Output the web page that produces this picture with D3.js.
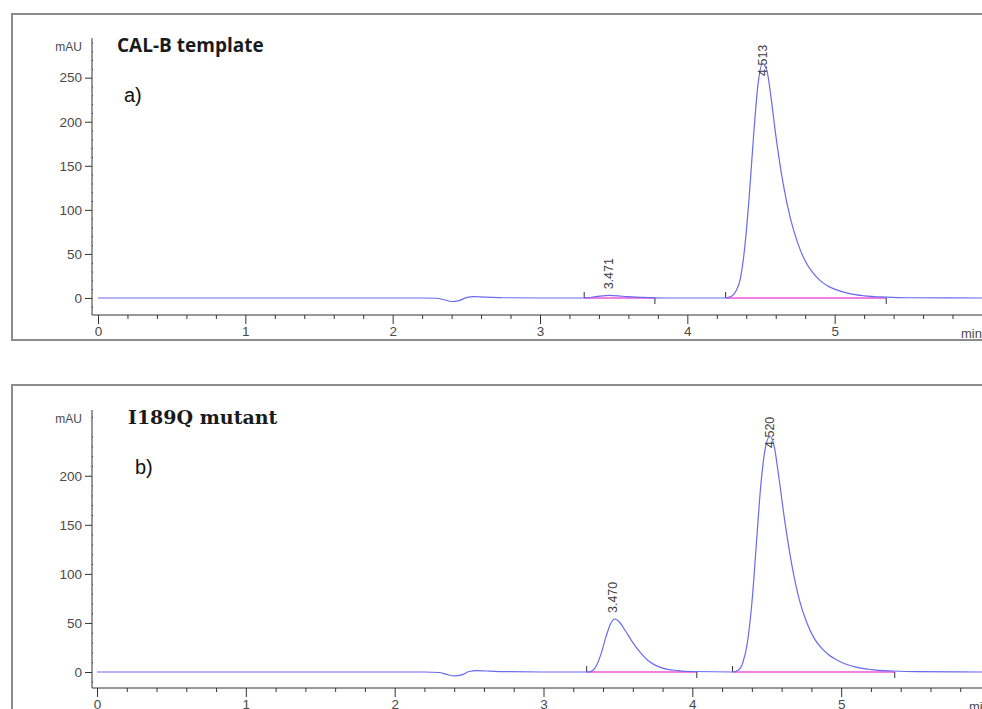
<!DOCTYPE html>
<html>
<head>
<meta charset="utf-8">
<script src="https://cdn.jsdelivr.net/npm/d3@7"></script>
<style>
  body { margin: 0; background: #fff; }
</style>
</head>
<body>
<svg id="chart" width="982" height="709" font-family="Arial, 'Liberation Sans', sans-serif"></svg>
<script>
// trace a) CAL-B template : retention time (min) / absorbance (mAU)
const timesA = [0, 2.2, 2.3, 2.35, 2.4, 2.45, 2.5, 2.55, 2.62, 2.75, 3.0, 3.3, 3.38, 3.47, 3.56, 3.7, 3.85,
  4.25, 4.3, 4.33, 4.36, 4.39, 4.42, 4.45, 4.48, 4.51, 4.54, 4.57, 4.6, 4.65, 4.7, 4.75, 4.8, 4.85, 4.9,
  4.95, 5.0, 5.1, 5.2, 5.35, 5.5, 6.0]
const valuesA = [0, 0, -0.3, -2, -4, -3, 0.5, 1.5, 1, 0.3, 0, 0, 1.5, 3, 2, 0.6, 0,
  0, 2, 8, 22, 58, 115, 185, 243, 266, 258, 225, 185, 130, 90, 62, 42, 29, 20,
  14, 10, 5, 2.5, 1, 0.3, 0]
// trace b) I189Q mutant
const timesB = [0, 2.2, 2.3, 2.35, 2.4, 2.45, 2.5, 2.55, 2.62, 2.75, 3.0, 3.3, 3.33, 3.36, 3.39, 3.42, 3.45,
  3.48, 3.51, 3.55, 3.6, 3.65, 3.7, 3.75, 3.8, 3.9, 4.0, 4.27, 4.31, 4.34, 4.37, 4.4, 4.43, 4.46, 4.49,
  4.52, 4.55, 4.58, 4.62, 4.67, 4.72, 4.77, 4.82, 4.87, 4.92, 5.0, 5.1, 5.2, 5.35, 5.5, 6.0]
const valuesB = [0, 0, -0.5, -2.5, -4, -3, 0.5, 1.5, 1, 0.3, 0, 0, 1.5, 8, 20, 36, 49,
  54, 51, 42, 30, 20, 12, 7, 4, 1.5, 0.5, 0, 2, 10, 30, 70, 130, 190, 228,
  240, 230, 200, 155, 108, 73, 50, 34, 24, 17, 10, 5, 2.5, 1, 0.3, 0]

// integrated peaks: retention time, label, start / end of baseline
const peakTimesA = [3.471, 4.513]
const peakLabelsA = ['3.471', '4.513']
const peakStartsA = [3.30, 4.26]
const peakEndsA = [3.78, 5.35]
const peakTimesB = [3.470, 4.520]
const peakLabelsB = ['3.470', '4.520']
const peakStartsB = [3.29, 4.27]
const peakEndsB = [4.03, 5.36]

// tick values
const xTicks = [0, 1, 2, 3, 4, 5, 6]
const xMinorTicks = d3.range(0, 6.01, 0.2).filter(d => Math.abs(d - Math.round(d)) > 0.01)
const yTicksA = [0, 50, 100, 150, 200, 250]
const yTicksB = [0, 50, 100, 150, 200]

const svg = d3.select('#chart')
svg.append('rect').attr('width', 982).attr('height', 709).attr('fill', '#fff')

function drawPanel (cfg) {
  const g = svg.append('g')
  // 外框
  g.append('rect')
    .attr('x', 12).attr('y', cfg.boxTop)
    .attr('width', 1000).attr('height', cfg.boxHeight)
    .attr('fill', 'none').attr('stroke', '#8c8c8c').attr('stroke-width', 2)

  const x = d3.scaleLinear().domain([0, 6]).range(cfg.xRange)
  const y = d3.scaleLinear().domain(cfg.yDomain).range([cfg.axisBottom, cfg.axisTop])
  const axisX = 92

  // y axis
  const yMinor = d3.range(-10, cfg.yDomain[1], 10).filter(d => d % 50 !== 0)
  g.append('g').attr('transform', `translate(${axisX},0)`)
    .call(d3.axisLeft(y).tickValues(yMinor).tickSize(3).tickFormat(''))
    .call(s => s.select('.domain').remove())
    .selectAll('line').attr('stroke', '#333').attr('x2', 1)
  const ya = g.append('g').attr('transform', `translate(${axisX},0)`)
    .call(d3.axisLeft(y).tickValues(cfg.yTicks).tickSize(7).tickPadding(3))
  ya.select('.domain').remove()
  ya.selectAll('line').attr('stroke', '#333')
  ya.selectAll('text').attr('fill', '#4a4a4a').attr('font-size', 13.5)
    .attr('font-family', null)
  g.append('line')
    .attr('x1', axisX).attr('x2', axisX)
    .attr('y1', cfg.axisTop).attr('y2', cfg.axisBottom)
    .attr('stroke', '#333')
  g.append('text')
    .attr('x', axisX - 10).attr('y', cfg.axisTop + 13)
    .attr('text-anchor', 'end').attr('fill', '#4a4a4a').attr('font-size', 12)
    .text('mAU')

  // x axis
  g.append('g').attr('transform', `translate(0,${cfg.axisBottom})`)
    .call(d3.axisBottom(x).tickValues(xMinorTicks).tickSize(4).tickFormat(''))
    .call(s => s.select('.domain').remove())
    .selectAll('line').attr('stroke', '#333')
  const xa = g.append('g').attr('transform', `translate(0,${cfg.axisBottom})`)
    .call(d3.axisBottom(x).tickValues(xTicks).tickSize(9).tickPadding(2)
      .tickFormat(d => d === 6 ? '' : d))
  xa.select('.domain').remove()
  xa.selectAll('line').attr('stroke', '#333')
  xa.selectAll('text').attr('fill', '#4a4a4a').attr('font-size', 13.5)
    .attr('font-family', null)
  g.append('line')
    .attr('x1', axisX).attr('x2', 982)
    .attr('y1', cfg.axisBottom).attr('y2', cfg.axisBottom)
    .attr('stroke', '#333')
  g.append('text')
    .attr('x', x(6) - 21).attr('y', cfg.axisBottom + 23)
    .attr('fill', '#4a4a4a').attr('font-size', 13)
    .text('min')

  // baselines of integrated peaks
  const base = g.append('g')
  cfg.starts.forEach((s, i) => {
    base.append('line')
      .attr('x1', x(s)).attr('x2', x(cfg.ends[i]))
      .attr('y1', y(0)).attr('y2', y(0))
      .attr('stroke', '#ee55d8').attr('stroke-width', 1.3)
    base.append('line')
      .attr('x1', x(s)).attr('x2', x(s))
      .attr('y1', y(0)).attr('y2', y(0) - 6)
      .attr('stroke', '#333')
    base.append('line')
      .attr('x1', x(cfg.ends[i])).attr('x2', x(cfg.ends[i]))
      .attr('y1', y(0)).attr('y2', y(0) + 6)
      .attr('stroke', '#333')
  })

  // signal
  const line = d3.line()
    .x(d => x(d[0]))
    .y(d => y(d[1]))
    .curve(d3.curveMonotoneX)
  g.append('path')
    .datum(d3.zip(cfg.times, cfg.values))
    .attr('d', line)
    .attr('fill', 'none')
    .attr('stroke', '#6a6af0')
    .attr('stroke-width', 1.2)

  // peak labels, rotated, pushed down when they would leave the axis
  const labelLen = 36
  cfg.peaks.forEach((t, i) => {
    const apex = d3.max(cfg.times.map((tt, j) => Math.abs(tt - t) < 0.06 ? cfg.values[j] : -Infinity))
    const yb = Math.max(y(apex) - 6, cfg.axisTop + 2 + labelLen)
    g.append('text')
      .attr('transform', `translate(${x(t) + 4},${yb}) rotate(-90)`)
      .attr('fill', '#404040').attr('font-size', 12.5)
      .text(cfg.labels[i])
  })

  // titles
  g.append('text')
    .attr('x', cfg.titleX).attr('y', cfg.axisTop + 14)
    .attr('font-family', cfg.titleFont)
    .attr('font-weight', 'bold').attr('font-size', cfg.titleSize).attr('fill', '#1a1a1a')
    .text(cfg.title)
  g.append('text')
    .attr('x', cfg.tagX).attr('y', cfg.axisTop + 64)
    .attr('font-size', 20).attr('fill', '#111')
    .text(cfg.tag)
}

drawPanel({
  boxTop: 14, boxHeight: 326,
  axisTop: 38, axisBottom: 315,
  xRange: [98, 982], yDomain: [-19.3, 295],
  yTicks: yTicksA,
  times: timesA, values: valuesA,
  peaks: peakTimesA, labels: peakLabelsA, starts: peakStartsA, ends: peakEndsA,
  title: 'CAL-B template', titleX: 117, titleSize: 19, titleFont: '"Open Sans", "Noto Sans", sans-serif',
  tag: 'a)', tagX: 124
})
drawPanel({
  boxTop: 385, boxHeight: 400,
  axisTop: 410, axisBottom: 688,
  xRange: [97, 990], yDomain: [-16.3, 267],
  yTicks: yTicksB,
  times: timesB, values: valuesB,
  peaks: peakTimesB, labels: peakLabelsB, starts: peakStartsB, ends: peakEndsB,
  title: 'I189Q mutant', titleX: 128, titleSize: 19, titleFont: '"DejaVu Serif", "Liberation Serif", serif',
  tag: 'b)', tagX: 135
})
</script>
</body>
</html>
